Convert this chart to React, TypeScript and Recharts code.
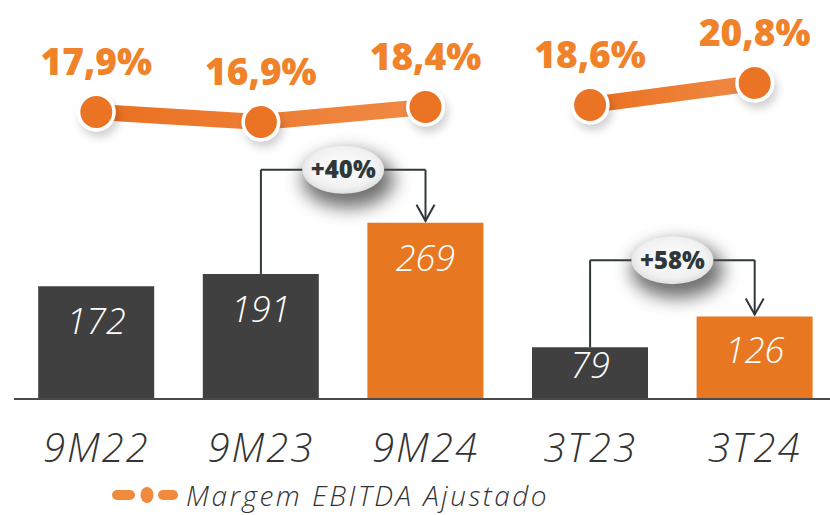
import React from 'react';
import {
  ComposedChart,
  Bar,
  Line,
  XAxis,
  YAxis,
  Cell,
  LabelList,
  ReferenceLine,
  Legend,
} from 'recharts';

const categories = ['9M22', '9M23', '9M24', '3T23', '3T24'];
const ebitdaValues = [172, 191, 269, 79, 126];
const highlighted = [false, false, true, false, true];
const margin9M = [17.9, 16.9, 18.4, null, null];
const margin3T = [null, null, null, 18.6, 20.8];
const legendLabel = 'Margem EBITDA Ajustado';

const growthFrom = ['9M23', '3T23'];
const growthTo = ['9M24', '3T24'];
const growthFromValue = [191, 79];
const growthToValue = [269, 126];
const growthLevel = [350, 212];
const growthText = ['+40%', '+58%'];

const data = categories.map((c, i) => ({
  cat: c,
  ebitda: ebitdaValues[i],
  m1: margin9M[i],
  m2: margin3T[i],
}));

const ORANGE = '#E87722';
const DARK = '#404040';
const LABEL_ORANGE = '#F0822A';
const TEXT_DARK = '#333333';
const BRACKET = '#2E3838';
const FONT = "'Open Sans', 'DejaVu Sans', sans-serif";

const fmtPct = (v: number) => v.toFixed(1).replace('.', ',') + '%';

const XTick = (props: any) => {
  const { x, y, payload } = props;
  return (
    <text
      x={x}
      y={y + 63}
      textAnchor="middle"
      fontFamily={FONT}
      fontStyle="italic"
      fontWeight={300}
      fontSize={40}
      letterSpacing={2}
      fill={TEXT_DARK}
    >
      {payload.value}
    </text>
  );
};

const BarValueLabel = (props: any) => {
  const { x, y, width, height, value } = props;
  if (value == null) return null;
  const fs = 36;
  const centerOffset = Math.min(35, height / 2 - 8);
  return (
    <text
      x={x + width / 2}
      y={y + centerOffset + fs * 0.36}
      textAnchor="middle"
      fontFamily={FONT}
      fontStyle="italic"
      fontWeight={300}
      fontSize={fs}
      fill="#ffffff"
    >
      {value}
    </text>
  );
};

const MarginLabel = (props: any) => {
  const { x, y, value } = props;
  if (value == null || x == null || y == null) return null;
  return (
    <text
      x={x}
      y={y - 37}
      textAnchor="middle"
      fontFamily={FONT}
      fontWeight={800}
      fontSize={37}
      fill={LABEL_ORANGE}
    >
      {fmtPct(Number(value))}
    </text>
  );
};

const MarginDot = (props: any) => {
  const { cx, cy, value } = props;
  if (value == null || cx == null || cy == null) return <g />;
  return (
    <g>
      <circle cx={cx} cy={cy} r={19.5} fill="#ffffff" filter="url(#dotShadow)" />
      <circle cx={cx} cy={cy} r={16} fill="#EA7424" />
    </g>
  );
};

const ArrowShape = (p: any) => {
  const { x1, y1, x2, y2 } = p;
  const top = Math.min(y1, y2);
  const tip = Math.max(y1, y2) - 2;
  return (
    <g>
      <line x1={x1} y1={top} x2={x2} y2={tip} stroke={BRACKET} strokeWidth={2} />
      <polyline
        points={`${x2 - 9},${tip - 16} ${x2},${tip} ${x2 + 9},${tip - 16}`}
        fill="none"
        stroke={BRACKET}
        strokeWidth={2}
      />
    </g>
  );
};

const makeBubble = (text: string) => (props: any) => {
  const vb = props.viewBox || {};
  const cx = (vb.x || 0) + (vb.width || 0) / 2;
  const cy = (vb.y || 0) + (vb.height || 0) / 2;
  return (
    <g>
      <ellipse cx={cx + 5} cy={cy + 10} rx={46} ry={28} fill="#555" opacity={0.85} filter="url(#bubbleShadow)" />
      <ellipse cx={cx} cy={cy} rx={41} ry={24} fill="url(#bubbleFill)" />
      <text
        x={cx}
        y={cy + 8.5}
        textAnchor="middle"
        fontFamily={FONT}
        fontWeight={800}
        fontSize={24}
        fill={BRACKET}
      >
        {text}
      </text>
    </g>
  );
};

const LegendContent = () => (
  <div
    style={{
      height: 46,
      boxSizing: 'border-box',
      paddingTop: 6,
      paddingLeft: 112,
      display: 'flex',
      alignItems: 'center',
    }}
  >
    <svg width={66} height={20} style={{ display: 'block' }}>
      <rect x={0} y={5} width={23} height={10} rx={5} fill="#F08A3C" />
      <ellipse cx={35} cy={10} rx={6.5} ry={8} fill="#F08A3C" />
      <rect x={46} y={5} width={20} height={10} rx={5} fill="#F08A3C" />
    </svg>
    <span
      style={{
        marginLeft: 8,
        fontFamily: FONT,
        fontStyle: 'italic',
        fontWeight: 300,
        fontSize: 28,
        letterSpacing: 2.5,
        color: TEXT_DARK,
        lineHeight: '30px',
        whiteSpace: 'nowrap',
      }}
    >
      {legendLabel}
    </span>
  </div>
);

export default function App() {
  return (
    <div style={{ position: 'absolute', left: 0, top: 0, width: 830, height: 515, background: '#fff', overflow: 'hidden' }}>
      <ComposedChart
        width={830}
        height={515}
        data={data}
        margin={{ top: 10, right: -7, left: 14, bottom: 0 }}
        barCategoryGap="14.7%"
      >
        <defs>
          <filter id="dotShadow" x="-50%" y="-50%" width="200%" height="200%">
            <feDropShadow dx={3} dy={6} stdDeviation={4} floodColor="#000" floodOpacity={0.18} />
          </filter>
          <filter id="bubbleShadow" x="-80%" y="-100%" width="260%" height="300%">
            <feGaussianBlur stdDeviation={9} />
          </filter>
          <radialGradient id="bubbleFill" cx="50%" cy="45%" r="60%">
            <stop offset="0%" stopColor="#ffffff" />
            <stop offset="70%" stopColor="#f1f1f1" />
            <stop offset="100%" stopColor="#d8d8d8" />
          </radialGradient>
          <linearGradient id="lineGrad" x1="0" y1="0" x2="1" y2="0">
            <stop offset="0%" stopColor="#EA7020" />
            <stop offset="100%" stopColor="#F08A45" />
          </linearGradient>
        </defs>
        <XAxis
          dataKey="cat"
          tick={<XTick />}
          tickLine={false}
          tickSize={0}
          tickMargin={0}
          interval={0}
          height={70}
          axisLine={{ stroke: '#4a4a4a', strokeWidth: 2 }}
        />
        <YAxis yAxisId="bar" hide domain={[0, 594]} />
        <YAxis yAxisId="line" hide domain={[-10.8, 28.1]} />
        <Bar yAxisId="bar" dataKey="ebitda" isAnimationActive={false}>
          {data.map((d, i) => (
            <Cell key={d.cat} fill={highlighted[i] ? ORANGE : DARK} />
          ))}
          <LabelList dataKey="ebitda" content={<BarValueLabel />} />
        </Bar>
        {growthText.map((t, i) => (
          <ReferenceLine
            key={'l' + i}
            yAxisId="bar"
            segment={[
              { x: growthFrom[i], y: growthFromValue[i] },
              { x: growthFrom[i], y: growthLevel[i] },
            ]}
            stroke={BRACKET}
            strokeWidth={2}
            ifOverflow="visible"
          />
        ))}
        {growthText.map((t, i) => (
          <ReferenceLine
            key={'r' + i}
            yAxisId="bar"
            segment={[
              { x: growthTo[i], y: growthLevel[i] },
              { x: growthTo[i], y: growthToValue[i] },
            ]}
            stroke={BRACKET}
            strokeWidth={2}
            ifOverflow="visible"
            shape={ArrowShape}
          />
        ))}
        {growthText.map((t, i) => (
          <ReferenceLine
            key={'h' + i}
            yAxisId="bar"
            segment={[
              { x: growthFrom[i], y: growthLevel[i] },
              { x: growthTo[i], y: growthLevel[i] },
            ]}
            stroke={BRACKET}
            strokeWidth={2}
            ifOverflow="visible"
            label={makeBubble(t)}
          />
        ))}
        <Line
          yAxisId="line"
          dataKey="m1"
          stroke="url(#lineGrad)"
          strokeWidth={16}
          dot={<MarginDot />}
          activeDot={false}
          connectNulls={false}
          isAnimationActive={false}
          legendType="none"
        >
          <LabelList dataKey="m1" content={<MarginLabel />} />
        </Line>
        <Line
          yAxisId="line"
          dataKey="m2"
          stroke="url(#lineGrad)"
          strokeWidth={16}
          dot={<MarginDot />}
          activeDot={false}
          connectNulls={false}
          isAnimationActive={false}
          legendType="none"
        >
          <LabelList dataKey="m2" content={<MarginLabel />} />
        </Line>
        <Legend verticalAlign="bottom" align="left" content={<LegendContent />} wrapperStyle={{ left: 0, width: 830 }} />
      </ComposedChart>
    </div>
  );
}
